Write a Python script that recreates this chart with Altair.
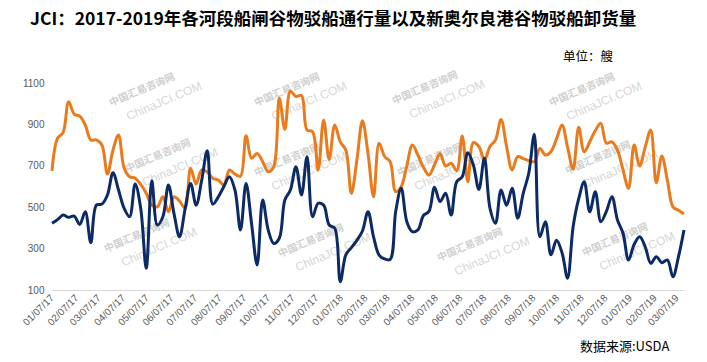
import altair as alt
import pandas as pd

title_text = "JCI：2017-2019年各河段船闸谷物驳船通行量以及新奥尔良港谷物驳船卸货量"
unit_text = "单位：艘"
source_text = "数据来源:USDA"
wm_cn = "中国汇易咨询网"
wm_en = "ChinaJCI.COM"

start_date = "2017-01-07"
end_date = (2019, 3, 16)

# weekly barge counts
locks = [676, 833, 860, 1010, 950, 940, 897, 825, 825, 800,
         660, 776, 849, 690, 647, 640, 610, 567, 510, 502,
         550, 478, 550, 530, 495, 688, 612, 680, 670, 640,
         631, 607, 680, 660, 650, 845, 736, 760, 720, 671,
         696, 1026, 876, 1060, 1035, 1040, 873, 865, 680, 921,
         731, 897, 816, 776, 567, 728, 918, 760, 551, 809,
         745, 720, 575, 600, 700, 800, 752, 693, 655, 705,
         760, 699, 712, 676, 844, 623, 812, 793, 728, 793,
         825, 924, 793, 680, 744, 735, 725, 720, 784, 752,
         768, 830, 897, 790, 683, 886, 768, 816, 870, 905,
         809, 816, 776, 680, 591, 800, 699, 790, 873, 618,
         747, 631, 502, 485, 467]
unloads = [422, 440, 462, 451, 457, 417, 478, 328, 510, 515,
           559, 667, 583, 495, 454, 612, 495, 205, 628, 414,
           454, 607, 470, 357, 490, 615, 510, 630, 773, 515,
           550, 600, 647, 583, 390, 615, 420, 221, 535, 390,
           325, 350, 535, 583, 696, 559, 744, 454, 519, 510,
           414, 398, 140, 270, 305, 340, 385, 478, 357, 269,
           250, 248, 480, 591, 430, 382, 390, 460, 480, 596,
           527, 567, 462, 623, 647, 763, 704, 586, 736, 495,
           422, 583, 510, 591, 447, 567, 664, 853, 357, 430,
           270, 340, 280, 157, 406, 540, 623, 478, 575, 430,
           480, 551, 438, 374, 245, 320, 357, 309, 229, 261,
           232, 245, 164, 260, 390]

y_ticks = [100, 300, 500, 700, 900, 1100]
x_tick_labels = ["01/07/17", "02/07/17", "03/07/17", "04/07/17", "05/07/17", "06/07/17",
                 "07/07/17", "08/07/17", "09/07/17", "10/07/17", "11/07/17", "12/07/17",
                 "01/07/18", "02/07/18", "03/07/18", "04/07/18", "05/07/18", "06/07/18",
                 "07/07/18", "08/07/18", "09/07/18", "10/07/18", "11/07/18", "12/07/18",
                 "01/07/19", "02/07/19", "03/07/19"]

names = ["船闸谷物驳船通行量", "新奥尔良港谷物驳船卸货量"]
colors = ["#EA7A1C", "#0C2A66"]

dates = pd.date_range(start_date, periods=len(locks), freq="7D")
df = pd.concat([
    pd.DataFrame({"date": dates, "value": locks, "series": names[0]}),
    pd.DataFrame({"date": dates, "value": unloads, "series": names[1]}),
])


def to_dt(lbl):
    m, d, y = lbl.split("/")
    return alt.DateTime(year=2000 + int(y), month=int(m), date=int(d))


tick_dt = [to_dt(l) for l in x_tick_labels]
sy, sm, sd = [int(v) for v in start_date.split("-")]
x_domain = [alt.DateTime(year=sy, month=sm, date=sd),
            alt.DateTime(year=end_date[0], month=end_date[1], date=end_date[2])]

W, H = 632, 207
LEFT, TOP = 44, 75

# watermark positions (page pixels, styling only)
wm_pos = [(142, 90), (287, 90), (425, 88), (582, 90),
          (158, 156), (287, 160), (430, 160), (598, 158),
          (137, 236), (311, 241), (470, 245), (615, 240)]
ox, oy = 8 + LEFT, 8 + TOP
wm_df = pd.DataFrame({
    "x": [p[0] - ox for p in wm_pos],
    "y": [p[1] - oy for p in wm_pos],
    "x2": [p[0] - ox + 22 for p in wm_pos],
    "y2": [p[1] - oy + 11 for p in wm_pos],
    "cn": wm_cn, "en": wm_en,
})

wm_cn_layer = alt.Chart(wm_df).mark_text(
    angle=337, fontSize=10, color="#cfcfcf", font="Noto Sans CJK SC", fontWeight="bold"
).encode(
    x=alt.X("x:Q", scale=None, axis=None),
    y=alt.Y("y:Q", scale=None, axis=None),
    text="cn:N",
)
wm_en_layer = alt.Chart(wm_df).mark_text(
    angle=337, fontSize=12, color="#d6d6d6", font="Liberation Sans"
).encode(
    x=alt.X("x2:Q", scale=None, axis=None),
    y=alt.Y("y2:Q", scale=None, axis=None),
    text="en:N",
)

lines = alt.Chart(df).mark_line(strokeWidth=3, interpolate="catmull-rom").encode(
    x=alt.X("date:T", title=None,
            scale=alt.Scale(domain=x_domain, nice=False),
            axis=alt.Axis(values=tick_dt, format="%m/%d/%y", labelAngle=315,
                          labelAlign="right", labelBaseline="middle",
                          ticks=False, grid=False, domainColor="#d9d9d9",
                          labelColor="#595959", labelFontSize=10, labelPadding=6,
                          labelOverlap=False, labelFlush=False,
                          labelFont="Liberation Sans")),
    y=alt.Y("value:Q", title=None,
            scale=alt.Scale(domain=[100, 1100], nice=False, zero=False),
            axis=alt.Axis(values=y_ticks, format="d", grid=False, domain=False, ticks=False,
                          labelColor="#595959", labelFontSize=10, labelPadding=8,
                          labelFont="Liberation Sans")),
    color=alt.Color("series:N", scale=alt.Scale(domain=names, range=colors), legend=None),
)


def label(text, x, y, size, weight="normal", font="Noto Sans CJK SC"):
    return alt.Chart(pd.DataFrame({"t": [text]})).mark_text(
        align="left", baseline="middle", fontSize=size, fontWeight=weight,
        font=font, color="#000000"
    ).encode(x=alt.value(x - ox), y=alt.value(y - oy), text="t:N")


chart = alt.layer(
    wm_cn_layer, wm_en_layer, lines,
    label(title_text, 30, 20, 17.5, "bold"),
    label(unit_text, 563, 57, 12.5),
    label(source_text, 580, 347, 13),
).properties(
    width=W, height=H,
    autosize=alt.AutoSizeParams(type="none"),
    padding={"left": LEFT, "top": TOP, "right": 15, "bottom": 70},
).configure_view(stroke=None)

chart.save("out.html", embed_options={"renderer": "svg", "actions": False})
